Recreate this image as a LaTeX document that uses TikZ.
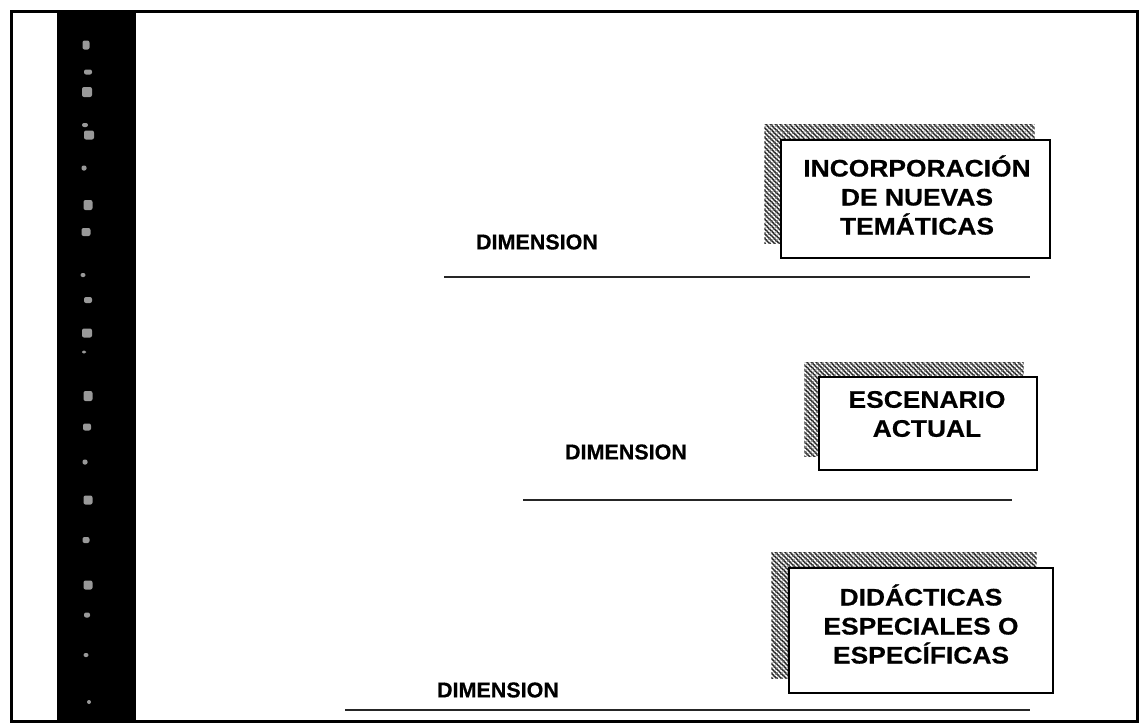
\documentclass[tikz,border=0pt]{standalone}
\usepackage{fontspec}
\setmainfont{Liberation Sans}
\newfontfamily\heavyfont{Liberation Sans}[BoldFeatures={FakeBold=0.5}]
\newfontfamily\boxfont{Liberation Sans}[FakeStretch=1.1,BoldFeatures={FakeBold=0.5}]
\usetikzlibrary{patterns.meta,backgrounds,calc}

\begin{document}
\begin{tikzpicture}[x=1pt,y=-1pt,
  hatchA/.style={pattern={Lines[angle=-45,distance=3.4pt,line width=1.6pt]},pattern color=black!85},
  hatchB/.style={pattern={Lines[angle=45,distance=3.4pt,line width=0.6pt]},pattern color=black!50},
  topic/.style={draw=black,line width=1.3pt,fill=white,inner sep=0pt},
  topictext/.style={font=\boxfont\bfseries\fontsize{24}{29}\selectfont,align=center,inner sep=0pt},
  dimlabel/.style={font=\heavyfont\bfseries\fontsize{21.5}{26}\selectfont,inner sep=0pt},
  rule/.style={line width=1.3pt,black!85},
  speck/.style={fill=black!40,rounded corners=2pt}]
\useasboundingbox (0,0) rectangle (1141,724);

% page frame and dark side band with its faded lettering
\fill[black] (57,11) rectangle (136,721);
\foreach \xx/\yy/\ww/\hh in {86/45/7/9,88/72/8/5,87/92/10/10,85/125/6/4,89/135/10/9,84/168/5/5,
    88/205/9/10,86/232/9/8,83/275/5/4,88/300/8/6,87/333/10/9,84/352/4/3,88/396/9/10,87/427/8/7,
    85/462/5/5,88/500/9/9,86/540/7/6,88/585/9/9,87/615/6/5,86/655/5/4,89/702/4/4}
  \fill[speck] (\xx-\ww/2,\yy-\hh/2) rectangle (\xx+\ww/2,\yy+\hh/2);
\draw[line width=3pt] (11,11) rectangle (1137,721);

% first level
\node[topic,minimum width=269pt,minimum height=118pt] (b1) at (915.5,199) {};
\node[topictext] (t1) at (917,195) {INCORPORACIÓN\\DE NUEVAS\\TEMÁTICAS};
\node[dimlabel] (d1) at (537,242) {DIMENSION};
\coordinate (r1a) at (444,277);
\coordinate (r1b) at (1030,277);
\draw[rule] (r1a) -- (r1b);

% second level
\node[topic,minimum width=218pt,minimum height=93pt] (b2) at (928,423.5) {};
\node[topictext] (t2) at (927,414) {ESCENARIO\\ACTUAL};
\node[dimlabel] (d2) at (626,452) {DIMENSION};
\coordinate (r2a) at (523,500);
\coordinate (r2b) at (1012,500);
\draw[rule] (r2a) -- (r2b);

% third level
\node[topic,minimum width=264pt,minimum height=125pt] (b3) at (921,630.5) {};
\node[topictext] (t3) at (921,624) {DIDÁCTICAS\\ESPECIALES O\\ESPECÍFICAS};
\node[dimlabel] (d3) at (498,690) {DIMENSION};
\coordinate (r3a) at (345,710);
\coordinate (r3b) at (1030,710);
\draw[rule] (r3a) -- (r3b);

% hatched shadows behind the boxes, shifted up and to the left
\begin{scope}[on background layer]
  \foreach \bx/\dx/\dy in {b1/16/15,b2/14/14,b3/17/15} {
    \fill[hatchA] ($(\bx.north west)+(-\dx,-\dy)$) rectangle ($(\bx.south east)+(-\dx,-\dy)$);
    \fill[hatchB] ($(\bx.north west)+(-\dx,-\dy)$) rectangle ($(\bx.south east)+(-\dx,-\dy)$);
  }
\end{scope}
\end{tikzpicture}
\end{document}
